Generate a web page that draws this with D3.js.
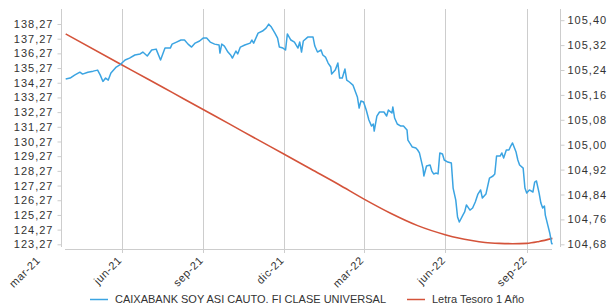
<!DOCTYPE html>
<html>
<head>
<meta charset="utf-8">
<script src="https://cdn.jsdelivr.net/npm/d3@7"></script>
<style>
  html, body { margin:0; padding:0; background:#fff; }
  svg { display:block; font-family:"Liberation Sans", Arial, sans-serif; }
</style>
</head>
<body>
<div id="chart"></div>
<script>
// Fondo vs Letra del Tesoro
const fundName = 'CAIXABANK SOY ASI CAUTO. FI CLASE UNIVERSAL';
const letraName = 'Letra Tesoro 1 Año';

const fundDates = [
  '2021-03-30','2021-04-04','2021-04-09','2021-04-15','2021-04-18','2021-04-24','2021-04-30','2021-05-05','2021-05-08','2021-05-11',
  '2021-05-14','2021-05-17','2021-05-20','2021-05-26','2021-05-30','2021-06-05','2021-06-10','2021-06-16','2021-06-22','2021-06-25',
  '2021-06-30','2021-07-05','2021-07-10','2021-07-15','2021-07-20','2021-07-26','2021-07-28','2021-08-02','2021-08-07','2021-08-11',
  '2021-08-15','2021-08-19','2021-08-23','2021-08-28','2021-09-01','2021-09-05','2021-09-09','2021-09-14','2021-09-19','2021-09-20',
  '2021-09-22','2021-09-25','2021-09-29','2021-10-02','2021-10-04','2021-10-08','2021-10-10','2021-10-13','2021-10-18','2021-10-24',
  '2021-10-26','2021-10-28','2021-11-02','2021-11-07','2021-11-11','2021-11-14','2021-11-17','2021-11-21','2021-11-24','2021-11-26',
  '2021-11-30','2021-12-03','2021-12-05','2021-12-09','2021-12-13','2021-12-17','2021-12-19','2021-12-21','2021-12-23','2021-12-28',
  '2022-01-03','2022-01-05','2022-01-08','2022-01-12','2022-01-14','2022-01-17','2022-01-20','2022-01-23','2022-01-24','2022-01-28',
  '2022-01-31','2022-02-02','2022-02-05','2022-02-08','2022-02-10','2022-02-13','2022-02-17','2022-02-20','2022-02-22','2022-02-24',
  '2022-02-26','2022-03-01','2022-03-04','2022-03-07','2022-03-10','2022-03-12','2022-03-13','2022-03-16','2022-03-19','2022-03-24',
  '2022-03-27','2022-03-29','2022-04-02','2022-04-03','2022-04-05','2022-04-08','2022-04-12','2022-04-15','2022-04-19','2022-04-20',
  '2022-04-22','2022-04-25','2022-04-29','2022-05-01','2022-05-03','2022-05-07','2022-05-08','2022-05-11','2022-05-15','2022-05-17',
  '2022-05-19','2022-05-22','2022-05-24','2022-05-26','2022-05-29','2022-05-31','2022-06-04','2022-06-08','2022-06-10','2022-06-13',
  '2022-06-15','2022-06-17','2022-06-21','2022-06-23','2022-06-25','2022-06-29','2022-07-02','2022-07-05','2022-07-08','2022-07-11',
  '2022-07-13','2022-07-17','2022-07-21','2022-07-25','2022-07-27','2022-07-29','2022-08-02','2022-08-04','2022-08-06','2022-08-09',
  '2022-08-12','2022-08-14','2022-08-16','2022-08-20','2022-08-22','2022-08-24','2022-08-28','2022-08-30','2022-09-01','2022-09-04',
  '2022-09-08','2022-09-10','2022-09-12','2022-09-15','2022-09-17','2022-09-19','2022-09-21','2022-09-22','2022-09-25','2022-09-27',
  '2022-09-29','2022-09-30'
];
const fundValues = [
  134.52,134.59,134.79,134.99,134.86,134.99,135.06,135.13,134.79,134.36,
  134.59,134.45,134.93,135.34,135.48,135.82,135.95,136.16,136.23,136.36,
  136.09,136.50,136.56,135.82,136.63,136.63,136.90,137.04,137.18,137.18,
  136.90,136.70,136.97,137.11,137.31,137.31,137.04,136.90,136.84,136.29,
  136.90,136.77,136.36,136.16,135.95,136.43,136.23,136.70,136.84,136.97,
  137.18,136.97,137.65,137.79,137.99,138.26,138.06,137.65,137.31,136.70,
  136.63,136.50,137.59,137.18,137.04,136.63,137.04,136.36,137.11,137.38,
  137.38,136.77,136.36,136.50,136.16,136.02,135.61,135.34,134.86,135.13,
  135.61,134.59,134.59,135.20,134.45,134.32,134.11,133.63,133.30,132.55,
  133.03,132.96,132.41,131.73,131.32,131.46,130.98,132.00,132.28,132.28,
  132.00,132.41,132.21,132.62,131.87,131.46,131.32,131.32,131.05,130.37,
  130.17,129.89,129.83,129.69,129.49,128.46,127.92,128.60,128.67,128.26,
  128.06,128.12,128.06,129.49,129.42,129.01,128.87,128.80,127.10,126.28,
  125.13,124.79,125.26,125.47,125.95,125.60,125.74,126.15,126.69,126.97,
  126.42,126.69,127.78,127.92,128.06,129.28,129.28,129.49,129.15,129.69,
  129.69,129.96,130.17,129.55,129.01,128.67,128.46,127.10,126.76,126.97,
  126.83,127.51,127.58,126.76,126.08,125.74,125.88,125.26,124.52,124.04,
  123.36,123.27
];

const letraDates = [
  '2021-03-30','2021-05-30','2021-06-30','2021-07-28','2021-09-01','2021-10-01','2021-11-01','2021-12-01','2022-01-01','2022-02-01',
  '2022-03-01','2022-04-01','2022-05-01','2022-06-01','2022-06-16','2022-07-01','2022-07-16','2022-08-01','2022-08-16','2022-09-01',
  '2022-09-15','2022-09-30'
];
const letraValues = [
  105.356,105.260,105.212,105.168,105.113,105.066,105.017,104.970,104.921,104.872,
  104.826,104.779,104.740,104.711,104.700,104.692,104.686,104.683,104.682,104.683,
  104.689,104.699
];

const xTickDates = ['2021-03-01','2021-06-01','2021-09-01','2021-12-01','2022-03-01','2022-06-01','2022-09-01'];
const xTickLabels = ['mar-21','jun-21','sep-21','dic-21','mar-22','jun-22','sep-22'];
const leftTicks = [123.27,124.27,125.27,126.27,127.27,128.27,129.27,130.27,131.27,132.27,133.27,134.27,135.27,136.27,137.27,138.27];
const rightTicks = [104.68,104.76,104.84,104.92,105.00,105.08,105.16,105.24,105.32,105.40];

(function(){
  const W = 608, H = 304;
  const plot = { left: 64, right: 553, top: 9, bottom: 249 };
  const parse = d3.utcParse('%Y-%m-%d');
  const es = d3.formatLocale({ decimal: ',', thousands: '.', grouping: [3], currency: ['', '€'] });
  const fmt = es.format('.2f');
  const textColor = '#333';
  const gridColor = '#cdcdcd';

  const svg = d3.select('#chart').append('svg')
    .attr('width', W).attr('height', H);

  const x = d3.scaleUtc()
    .domain([parse('2021-03-01'), parse('2022-09-01')])
    .range([40, 526.7]);
  const yL = d3.scaleLinear().domain([123.27, 138.27]).range([244.3, 24]);
  const yR = d3.scaleLinear().domain([104.68, 105.40]).range([244.3, 20.2]);

  const tickDates = xTickDates.map(parse);

  // vertical gridlines (only inside the plot)
  svg.append('g').selectAll('line')
    .data(tickDates.filter(d => x(d) > plot.left && x(d) < plot.right))
    .enter().append('line')
    .attr('x1', d => Math.round(x(d)) + 0.5).attr('x2', d => Math.round(x(d)) + 0.5)
    .attr('y1', plot.top).attr('y2', plot.bottom + 4)
    .attr('stroke', gridColor).attr('stroke-width', 1);

  // bottom axis line
  svg.append('line')
    .attr('x1', plot.left + 1).attr('x2', plot.right - 1)
    .attr('y1', plot.bottom + 0.5).attr('y2', plot.bottom + 0.5)
    .attr('stroke', gridColor);

  // x labels
  svg.append('g').selectAll('text')
    .data(tickDates)
    .enter().append('text')
    .attr('transform', d => `translate(${x(d) + 1},${plot.bottom + 12}) rotate(-45)`)
    .attr('text-anchor', 'end')
    .attr('fill', textColor)
    .style('font-size', '11px')
    .style('letter-spacing', '0.6px')
    .text((d, i) => xTickLabels[i]);

  // left axis
  const gL = svg.append('g').attr('transform', 'translate(61.5,0)')
    .call(d3.axisLeft(yL).tickValues(leftTicks).tickFormat(fmt).tickSize(4).tickPadding(4));
  gL.select('.domain').remove();
  gL.append('line').attr('y1', plot.top).attr('y2', plot.bottom - 2).attr('stroke', gridColor);
  gL.selectAll('.tick line').attr('stroke', gridColor);
  gL.selectAll('.tick text').attr('fill', textColor)
    .style('font-size', '11px').style('letter-spacing', '1px')
    .style('font-family', '"Liberation Sans", Arial, sans-serif');

  // right axis
  const gR = svg.append('g').attr('transform', 'translate(560.5,0)')
    .call(d3.axisRight(yR).tickValues(rightTicks).tickFormat(fmt).tickSize(4).tickPadding(3));
  gR.select('.domain').remove();
  gR.append('line').attr('y1', plot.top).attr('y2', plot.bottom - 2).attr('stroke', gridColor);
  gR.selectAll('.tick line').attr('stroke', gridColor);
  gR.selectAll('.tick text').attr('fill', textColor)
    .style('font-size', '11px').style('letter-spacing', '1px')
    .style('font-family', '"Liberation Sans", Arial, sans-serif');

  // series
  const fund = fundDates.map((d, i) => ({ t: parse(d), v: fundValues[i] }));
  const letra = letraDates.map((d, i) => ({ t: parse(d), v: letraValues[i] }));

  svg.append('path')
    .datum(letra)
    .attr('fill', 'none')
    .attr('stroke', '#d4533a')
    .attr('stroke-width', 1.6)
    .attr('d', d3.line().x(d => x(d.t)).y(d => yR(d.v)).curve(d3.curveMonotoneX));

  svg.append('path')
    .datum(fund)
    .attr('fill', 'none')
    .attr('stroke', '#3ba4e2')
    .attr('stroke-width', 1.5)
    .attr('stroke-linejoin', 'round')
    .attr('d', d3.line().x(d => x(d.t)).y(d => yL(d.v)));

  // legend
  const legend = svg.append('g').attr('transform', 'translate(0,299)');
  const items = [
    { name: fundName, color: '#3ba4e2', x: 90 },
    { name: letraName, color: '#d4533a', x: 407 }
  ];
  items.forEach(it => {
    legend.append('line').attr('x1', it.x).attr('x2', it.x + 18).attr('y1', 0.5).attr('y2', 0.5)
      .attr('stroke', it.color).attr('stroke-width', 1.5);
    legend.append('text').attr('x', it.x + 25).attr('y', 4)
      .attr('fill', textColor).style('font-size', '11px').text(it.name);
  });
})();
</script>
</body>
</html>
